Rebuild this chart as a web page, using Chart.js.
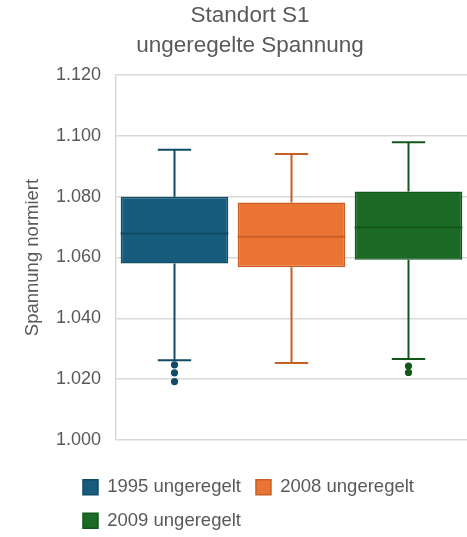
<!DOCTYPE html>
<html>
<head>
<meta charset="utf-8">
<script src="https://cdn.jsdelivr.net/npm/chart.js@4"></script>
<style>
  html, body { margin: 0; padding: 0; background: #fff; }
  #wrap { width: 467px; height: 537px; }
</style>
</head>
<body>
<div id="wrap"><canvas id="myChart"></canvas></div>
<script>
// Box plot values
const seriesNames = ['1995 ungeregelt', '2008 ungeregelt', '2009 ungeregelt'];
const q1 = [1.0580, 1.0568, 1.0593];
const q3 = [1.0800, 1.0781, 1.0817];
const median = [1.0679, 1.0668, 1.0699];
const whiskerLow = [1.0262, 1.0253, 1.0266];
const whiskerHigh = [1.0954, 1.0940, 1.0979];
const outliers = [[1.0247, 1.0221, 1.0192], [], [1.0243, 1.0222]];

const fills = ['#175c7d', '#ea7434', '#1b6a26'];
const lines = ['#104b68', '#c95f25', '#14571d'];

const boxParts = {
  id: 'boxParts',
  afterLayout(chart) {
    // legend rows start left-aligned under the plot
    const lg = chart.legend;
    lg.left = 68;
    lg.right = lg.left + lg.width;
    lg.top += 3;
    lg.bottom += 3;
    // title sits a little right of the canvas centre
    const t = chart.titleBlock;
    t.left = 33;
    t.width = t.right - t.left;
  },
  afterDatasetsDraw(chart) {
    const ctx = chart.ctx;
    const y = chart.scales.y;
    chart.data.datasets.forEach((ds, i) => {
      const bar = chart.getDatasetMeta(i).data[0];
      const x = bar.x;
      const w = bar.width;
      const cap = w * 0.31;
      ctx.save();
      ctx.strokeStyle = lines[i];
      ctx.lineWidth = 2;
      ctx.beginPath();
      // whiskers
      ctx.moveTo(x, y.getPixelForValue(q3[i]));
      ctx.lineTo(x, y.getPixelForValue(whiskerHigh[i]));
      ctx.moveTo(x - cap / 2, y.getPixelForValue(whiskerHigh[i]));
      ctx.lineTo(x + cap / 2, y.getPixelForValue(whiskerHigh[i]));
      ctx.moveTo(x, y.getPixelForValue(q1[i]));
      ctx.lineTo(x, y.getPixelForValue(whiskerLow[i]));
      ctx.moveTo(x - cap / 2, y.getPixelForValue(whiskerLow[i]));
      ctx.lineTo(x + cap / 2, y.getPixelForValue(whiskerLow[i]));
      // median
      ctx.moveTo(x - w / 2, y.getPixelForValue(median[i]));
      ctx.lineTo(x + w / 2, y.getPixelForValue(median[i]));
      ctx.stroke();
      ctx.fillStyle = lines[i];
      outliers[i].forEach(v => {
        ctx.beginPath();
        ctx.arc(x, y.getPixelForValue(v), 3.6, 0, Math.PI * 2);
        ctx.fill();
      });
      ctx.restore();
    });
  }
};

const ctx = document.getElementById('myChart');
Chart.defaults.font.family = '"Liberation Sans", Arial, sans-serif';
Chart.defaults.color = '#595959';

new Chart(ctx, {
  type: 'bar',
  data: {
    labels: [''],
    datasets: seriesNames.map((name, i) => ({
      label: name,
      data: [[q1[i], q3[i]]],
      backgroundColor: fills[i],
      borderColor: lines[i],
      borderWidth: 1.5,
      borderSkipped: false
    }))
  },
  options: {
    responsive: true,
    maintainAspectRatio: false,
    animation: false,
    layout: { padding: 0 },
    categoryPercentage: 1,
    barPercentage: 0.92,
    scales: {
      x: { display: false },
      y: {
        min: 1.0,
        max: 1.12,
        afterFit: s => { s.width = 116; },
        ticks: {
          stepSize: 0.02,
          padding: 15,
          font: { size: 18 },
          callback: v => v.toFixed(3)
        },
        grid: { color: '#d9d9d9', lineWidth: 1.5, drawTicks: false },
        border: { color: '#d9d9d9', width: 1.5 },
        title: {
          display: true,
          text: 'Spannung normiert',
          font: { size: 18.5 },
          padding: { top: 22, bottom: 0 }
        }
      }
    },
    plugins: {
      title: {
        display: true,
        text: ['Standort S1', 'ungeregelte Spannung'],
        font: { size: 22.5, weight: 'normal', lineHeight: 30 / 22.5 },
        padding: { top: 1, bottom: 14 }
      },
      legend: {
        position: 'bottom',
        align: 'start',
        title: { display: true, text: '', font: { size: 20, lineHeight: 1 }, padding: 0 },
        labels: {
          boxWidth: 15,
          boxHeight: 15,
          padding: 15,
          font: { size: 18.5 }
        }
      },
      tooltip: { enabled: false }
    }
  },
  plugins: [boxParts]
});
</script>
</body>
</html>
